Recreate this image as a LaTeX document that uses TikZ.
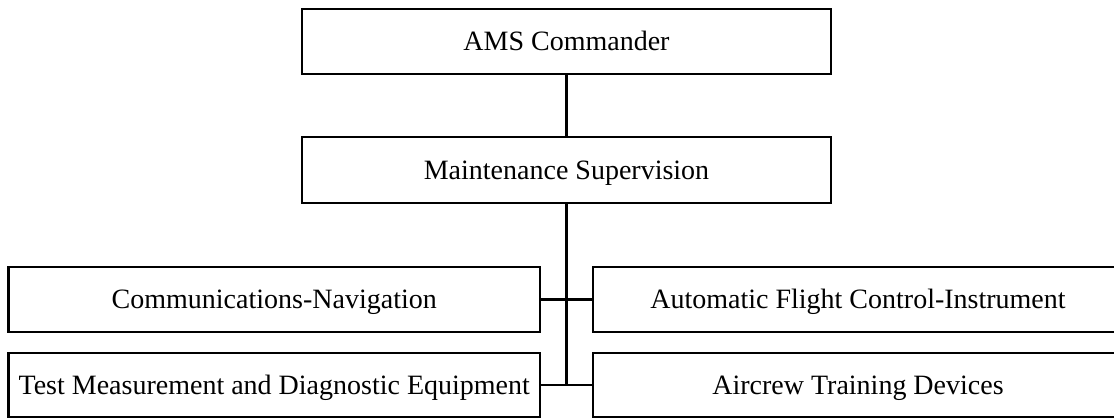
\documentclass[tikz,border=0pt]{standalone}
\usepackage{fontspec}
\setmainfont{Liberation Serif}
\begin{document}
\begin{tikzpicture}[x=1pt,y=1pt,
  box/.style={draw, line width=2.6pt, rectangle, inner sep=0pt,
    font=\fontsize{28}{32}\selectfont, text height=18.5pt, text depth=0pt},
  link/.style={line width=2.8pt}]
\clip (0,0) rectangle (1114,419);
\fill[white] (0,0) rectangle (1114,419);
\node[box, minimum width=529pt, minimum height=65pt] (ams) at (566.5,377.5) {AMS Commander};
\node[box, minimum width=529pt, minimum height=66pt] (maint) at (566.5,249) {Maintenance Supervision};
\node[box, minimum width=531.5pt, minimum height=65pt] (comm) at (274.25,119.5) {Communications-Navigation};
\node[box, minimum width=531.5pt, minimum height=64pt] (test) at (274.25,34) {Test Measurement and Diagnostic Equipment};
\node[box, minimum width=530pt, minimum height=65pt] (afc) at (858,119.5) {Automatic Flight Control-Instrument};
\node[box, minimum width=530pt, minimum height=64pt] (air) at (858,34) {Aircrew Training Devices};
\coordinate (bot) at (maint.south |- test.east);
\draw[link] (ams.south) -- (maint.north);
\draw[link] (maint.south) -- (bot);
\draw[link] (comm.east) -- (afc.west);
\draw[link] (test.east) -- (air.west);
\end{tikzpicture}
\end{document}
